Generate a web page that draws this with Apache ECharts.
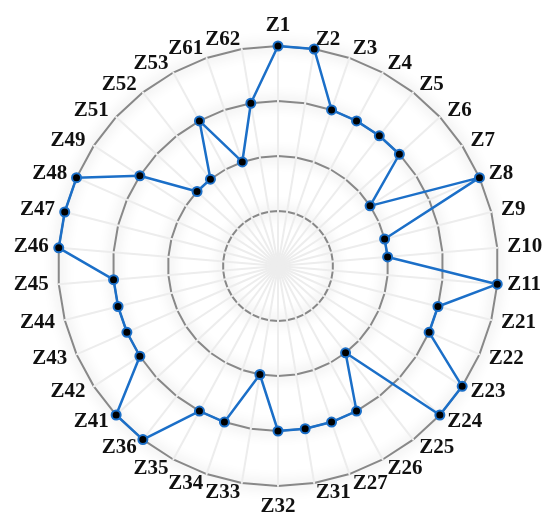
<!DOCTYPE html>
<html>
<head>
<meta charset="utf-8">
<script src="https://cdn.jsdelivr.net/npm/echarts@6/dist/echarts.min.js"></script>
<style>
html,body{margin:0;padding:0;background:#fff;}
#chart{width:542px;height:519px;}
</style>
</head>
<body>
<div id="chart"></div>
<script>
// Categories in clockwise order starting at the top
const categories = ['Z1','Z2','Z3','Z4','Z5','Z6','Z7','Z8','Z9','Z10','Z11',
  'Z21','Z22','Z23','Z24','Z25','Z26','Z27',
  'Z31','Z32','Z33','Z34','Z35','Z36',
  'Z41','Z42','Z43','Z44','Z45','Z46','Z47','Z48','Z49',
  'Z51','Z52','Z53','Z61','Z62'];
const values = [4,4,3,3,3,3,2,4,2,2,4,
  3,3,4,4,2,3,3,
  3,3,2,3,3,4,
  4,3,3,3,3,4,4,4,3,
  2,2,3,2,3];
const maxValue = 4;

// ECharts radar places indicators counter-clockwise; reverse (keeping the first) for clockwise order
const order = [0];
for (let i = categories.length - 1; i >= 1; i--) order.push(i);
const indicator = order.map(i => ({ name: categories[i], max: maxValue, min: 0 }));
const seriesValues = order.map(i => values[i]);

const center = [278, 266];
const radius = 220;

const chart = echarts.init(document.getElementById('chart'));
chart.setOption({
  animation: false,
  backgroundColor: '#ffffff',
  radar: [
    {
      z: 0,
      center: center,
      radius: radius,
      shape: 'polygon',
      splitNumber: 4,
      indicator: indicator,
      axisName: {
        color: '#111',
        fontFamily: 'Liberation Serif',
        fontWeight: 'bold',
        fontSize: 21
      },
      nameGap: 10,
      axisLine: { show: false },
      splitArea: { show: false },
      splitLine: {
        lineStyle: {
          color: '#888888',
          width: 2,
          shadowBlur: 14,
          shadowColor: 'rgba(0,0,0,0.3)'
        }
      }
    },
    {
      z: 1,
      center: center,
      radius: radius,
      shape: 'polygon',
      splitNumber: 4,
      indicator: indicator,
      axisName: { show: false },
      axisLine: { show: true, lineStyle: { color: '#ededed', width: 2 } },
      splitArea: { show: false },
      splitLine: { show: false }
    }
  ],
  series: [{
    type: 'radar',
    radarIndex: 0,
    z: 3,
    symbol: 'circle',
    symbolSize: 9,
    lineStyle: { color: '#1b6fc8', width: 2.5 },
    itemStyle: { color: '#000', borderColor: '#1b6fc8', borderWidth: 2 },
    data: [{ value: seriesValues }]
  }]
});
</script>
</body>
</html>
